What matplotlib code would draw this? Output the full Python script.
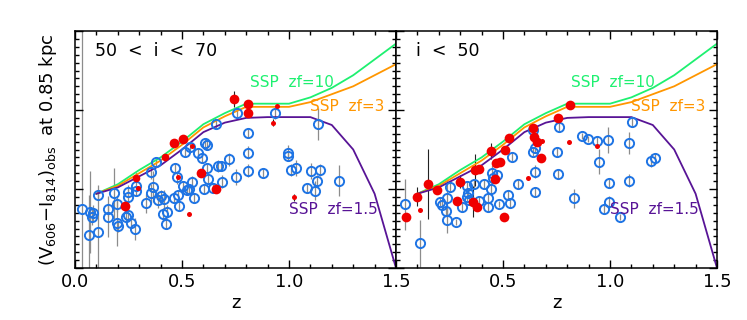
#!/usr/bin/env python3
"""Colour vs redshift at 0.85 kpc, two inclination bins, with SSP model tracks."""

import matplotlib
matplotlib.use("Agg")
import matplotlib.pyplot as plt
from matplotlib.ticker import MultipleLocator

plt.rcParams["font.family"] = ["DejaVu Sans"]
plt.rcParams["mathtext.default"] = "regular"

BLUE = "#1e74e4"
RED = "#f00000"
GREEN = "#1ef070"
ORANGE = "#ff9600"
PURPLE = "#581496"

# SSP model tracks (same in both panels)
ssp_z = [0.1, 0.2, 0.3, 0.4, 0.5, 0.6, 0.7, 0.8, 0.9, 1.0, 1.1, 1.2, 1.3, 1.4, 1.5]
ssp_zf10 = [0.97, 1.03, 1.12, 1.20, 1.30, 1.41, 1.48, 1.54, 1.54, 1.54, 1.58, 1.64, 1.72, 1.82, 1.92]
ssp_zf3 = [0.97, 1.02, 1.10, 1.18, 1.28, 1.39, 1.46, 1.52, 1.52, 1.52, 1.55, 1.60, 1.65, 1.72, 1.79]
ssp_zf15 = [0.97, 1.01, 1.08, 1.15, 1.25, 1.36, 1.42, 1.45, 1.455, 1.455, 1.455, 1.405, 1.25, 0.97, 0.50]

# 50 < i < 70 : open (blue) points
left_blue_z = [0.031, 0.070, 0.086, 0.078, 0.065, 0.109, 0.106, 0.153, 0.153, 0.184,
               0.195, 0.195, 0.199, 0.238, 0.249, 0.249, 0.249, 0.285, 0.284, 0.262,
               0.280, 0.332, 0.355, 0.363, 0.355, 0.379, 0.386, 0.402, 0.418, 0.413,
               0.428, 0.424, 0.469, 0.475, 0.464, 0.483, 0.486, 0.506, 0.522, 0.534,
               0.545, 0.558, 0.514, 0.537, 0.573, 0.592, 0.608, 0.619, 0.615, 0.623,
               0.603, 0.643, 0.670, 0.682, 0.686, 0.721, 0.753, 0.659, 0.759, 0.807,
               0.810, 0.810, 0.880, 0.935, 0.993, 0.997, 1.010, 1.032, 1.103, 1.145,
               1.130, 1.083, 1.122, 1.134, 1.234]
left_blue_c = [0.873, 0.857, 0.846, 0.821, 0.709, 0.726, 0.962, 0.871, 0.825, 0.973,
               0.905, 0.787, 0.766, 0.825, 0.835, 0.952, 0.983, 1.019, 0.987, 0.787,
               0.745, 0.909, 0.973, 1.015, 1.106, 1.169, 0.930, 0.956, 0.935, 0.842,
               0.857, 0.778, 1.135, 1.074, 0.945, 0.962, 0.895, 1.019, 0.994, 0.998,
               1.042, 0.945, 1.236, 1.268, 1.226, 1.194, 1.293, 1.279, 1.131, 1.065,
               0.998, 1.004, 1.146, 1.146, 1.046, 1.188, 1.078, 1.409, 1.483, 1.352,
               1.230, 1.116, 1.103, 1.483, 1.230, 1.209, 1.120, 1.131, 1.116, 1.120,
               1.051, 1.004, 0.990, 1.411, 1.053]
left_blue_err = [2.00, 0.26, 0.05, 0.05, 0.25, 0.30, 0.03, 0.04, 0.13, 0.16,
                 0.05, 0.15, 0.04, 0.04, 0.04, 0.05, 0.04, 0.04, 0.03, 0.04,
                 0.07, 0.06, 0.06, 0.10, 0.04, 0.03, 0.05, 0.04, 0.06, 0.04,
                 0.04, 0.03, 0.03, 0.04, 0.03, 0.03, 0.03, 0.03, 0.03, 0.03,
                 0.04, 0.03, 0.03, 0.03, 0.03, 0.03, 0.03, 0.03, 0.03, 0.03,
                 0.03, 0.03, 0.04, 0.03, 0.04, 0.04, 0.05, 0.03, 0.03, 0.03,
                 0.04, 0.04, 0.03, 0.04, 0.05, 0.03, 0.04, 0.05, 0.05, 0.04,
                 0.04, 0.03, 0.06, 0.10, 0.10]

# 50 < i < 70 : filled (red) points, size class L/M/S
left_red_z = [0.464, 0.506, 0.545, 0.421, 0.284, 0.234, 0.589, 0.659, 0.534, 0.483,
              0.745, 0.807, 0.810, 0.943, 0.924, 1.024, 0.296]
left_red_c = [1.293, 1.314, 1.272, 1.200, 1.072, 0.895, 1.099, 0.998, 0.842, 1.078,
              1.570, 1.536, 1.483, 1.525, 1.420, 0.947, 1.004]
left_red_size = ["L", "L", "S", "M", "M", "L", "L", "L", "S", "S",
                 "L", "L", "L", "S", "S", "S", "S"]
left_red_err = [0.0, 0.0, 0.0, 0.0, 0.03, 0.0, 0.0, 0.0, 0.0, 0.0,
                0.05, 0.0, 0.0, 0.02, 0.02, 0.02, 0.0]

# i < 50 : open (blue) points
right_blue_z = [0.042, 0.112, 0.206, 0.214, 0.232, 0.240, 0.237, 0.253, 0.280, 0.307,
                0.331, 0.335, 0.331, 0.341, 0.366, 0.388, 0.413, 0.429, 0.429, 0.443,
                0.447, 0.455, 0.471, 0.482, 0.522, 0.533, 0.541, 0.569, 0.639, 0.639,
                0.650, 0.650, 0.650, 0.752, 0.756, 0.760, 0.831, 0.871, 0.899, 0.938,
                0.949, 0.973, 0.989, 0.997, 0.997, 1.047, 1.091, 1.088, 1.104, 1.193,
                1.212]
right_blue_c = [0.903, 0.656, 0.920, 0.899, 0.863, 0.941, 0.804, 1.015, 0.793, 0.884,
                1.021, 0.977, 0.951, 0.930, 1.032, 0.924, 1.032, 0.941, 0.884, 1.000,
                1.099, 1.067, 1.089, 0.903, 0.962, 0.909, 1.205, 1.032, 1.373, 1.236,
                1.257, 1.110, 0.983, 1.236, 1.095, 1.395, 0.941, 1.335, 1.316, 1.304,
                1.173, 0.871, 1.310, 1.036, 0.916, 0.821, 1.289, 1.053, 1.426, 1.179,
                1.198]
right_blue_err = [0.16, 0.15, 0.03, 0.03, 0.03, 0.12, 0.08, 0.03, 0.02, 0.03,
                  0.03, 0.03, 0.03, 0.03, 0.03, 0.03, 0.03, 0.03, 0.03, 0.04,
                  0.05, 0.03, 0.03, 0.02, 0.03, 0.03, 0.03, 0.03, 0.03, 0.03,
                  0.03, 0.04, 0.03, 0.03, 0.03, 0.03, 0.06, 0.02, 0.02, 0.03,
                  0.08, 0.03, 0.08, 0.03, 0.04, 0.02, 0.07, 0.04, 0.03, 0.04,
                  0.03]

# i < 50 : filled (red) points
right_red_z = [0.045, 0.097, 0.112, 0.151, 0.193, 0.283, 0.300, 0.362, 0.377, 0.369,
               0.388, 0.444, 0.463, 0.466, 0.486, 0.510, 0.530, 0.507, 0.619, 0.642,
               0.647, 0.658, 0.681, 0.676, 0.756, 0.813, 0.808, 0.938]
right_red_c = [0.825, 0.951, 0.867, 1.032, 0.994, 0.926, 1.046, 0.920, 0.884, 1.120,
               1.125, 1.243, 1.061, 1.167, 1.173, 1.247, 1.321, 0.821, 1.072, 1.384,
               1.331, 1.300, 1.306, 1.194, 1.452, 1.532, 1.300, 1.273]
right_red_size = ["L", "L", "S", "L", "L", "L", "L", "L", "L", "L",
                  "L", "L", "L", "L", "L", "L", "L", "L", "S", "L",
                  "L", "L", "S", "L", "L", "L", "S", "S"]
right_red_err = [0.0, 0.06, 0.0, 0.22, 0.0, 0.0, 0.04, 0.10, 0.0, 0.10,
                 0.0, 0.05, 0.0, 0.0, 0.0, 0.0, 0.0, 0.0, 0.0, 0.0,
                 0.0, 0.0, 0.0, 0.0, 0.0, 0.0, 0.0, 0.0]

RED_MS = {"L": 7.0, "M": 5.5, "S": 3.6}


def draw_panel(ax, title, blue, red):
    bz, bc, be = blue
    rz, rc, rs, re = red

    # error bars first, markers on top
    ax.errorbar(bz, bc, yerr=be, fmt="none", ecolor="#8c8c8c", elinewidth=0.9, zorder=1)
    ax.errorbar(rz, rc, yerr=re, fmt="none", ecolor="#222222", elinewidth=0.8, zorder=1)

    ax.plot(ssp_z, ssp_zf10, color=GREEN, lw=1.3, zorder=2)
    ax.plot(ssp_z, ssp_zf3, color=ORANGE, lw=1.3, zorder=2)
    ax.plot(ssp_z, ssp_zf15, color=PURPLE, lw=1.3, zorder=2)

    ax.plot(bz, bc, "o", mfc="none", mec=BLUE, ms=6.6, mew=1.4, zorder=3)
    for z, c, s in zip(rz, rc, rs):
        ax.plot(z, c, "o", color=RED, mec=RED, ms=RED_MS[s], mew=0, zorder=4)

    ax.text(0.82, 1.677, "SSP  zf=10", color=GREEN, fontsize=11, va="center")
    ax.text(1.10, 1.519, "SSP  zf=3", color=ORANGE, fontsize=11, va="center")
    ax.text(1.00, 0.870, "SSP  zf=1.5", color=PURPLE, fontsize=11, va="center")
    ax.text(0.095, 1.873, title, color="black", fontsize=12.5, va="center")

    ax.set_xlim(0.0, 1.5)
    ax.set_ylim(0.5, 2.0)
    ax.xaxis.set_major_locator(MultipleLocator(0.5))
    ax.xaxis.set_minor_locator(MultipleLocator(0.1))
    ax.yaxis.set_major_locator(MultipleLocator(0.5))
    ax.yaxis.set_minor_locator(MultipleLocator(0.05))
    ax.tick_params(which="both", direction="in", top=True, right=True, width=1.0)
    ax.tick_params(which="major", length=5.5, labelsize=13)
    ax.tick_params(which="minor", length=2.8)
    ax.set_yticklabels([])
    ax.set_xticks([0.0, 0.5, 1.0, 1.5])
    ax.set_xticklabels(["0.0", "0.5", "1.0", "1.5"])
    for sp in ax.spines.values():
        sp.set_linewidth(1.1)
    ax.set_xlabel("z", fontsize=13, labelpad=2)


def main():
    fig = plt.figure(figsize=(7.47, 3.2), dpi=100)
    ax1 = fig.add_axes([75 / 747, 52 / 320, 321 / 747, 237 / 320])
    ax2 = fig.add_axes([396 / 747, 52 / 320, 321 / 747, 237 / 320])

    draw_panel(ax1, "50  <  i  <  70",
               (left_blue_z, left_blue_c, left_blue_err),
               (left_red_z, left_red_c, left_red_size, left_red_err))
    draw_panel(ax2, "i  <  50",
               (right_blue_z, right_blue_c, right_blue_err),
               (right_red_z, right_red_c, right_red_size, right_red_err))

    # right panel shares the 0.0 position with the left panel's 1.5 label
    ax2.set_xticklabels(["", "0.5", "1.0", "1.5"])

    ax1.set_ylabel(r"(V$_{606}$$-$I$_{814}$)$_{obs}$  at 0.85 kpc", fontsize=13, labelpad=8)

    fig.savefig("out.png", dpi=100)


if __name__ == "__main__":
    main()
